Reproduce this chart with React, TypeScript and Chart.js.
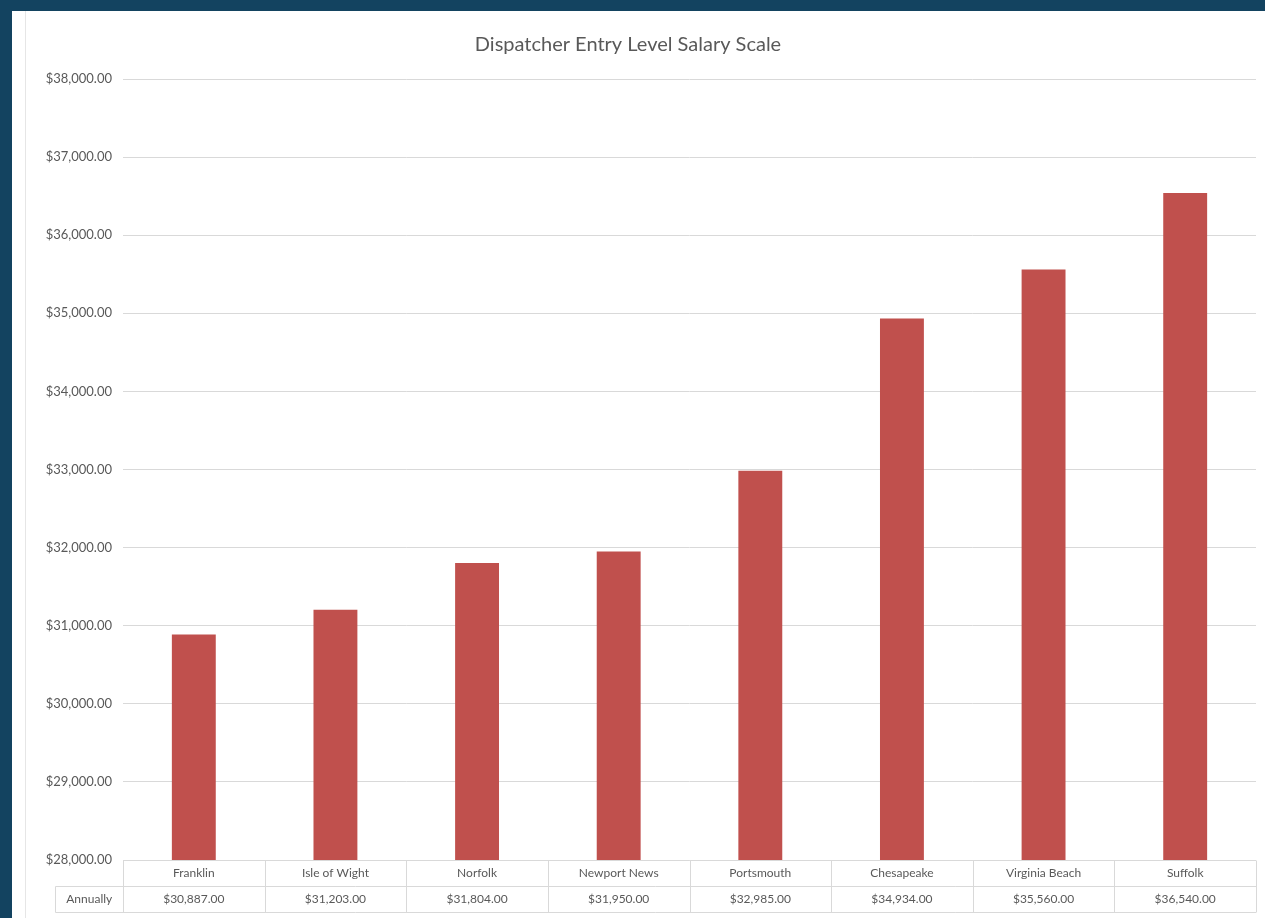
import React, { useEffect, useRef } from "react";
import { Chart, registerables } from "chart.js";

Chart.register(...registerables);

const categories = [
  "Franklin",
  "Isle of Wight",
  "Norfolk",
  "Newport News",
  "Portsmouth",
  "Chesapeake",
  "Virginia Beach",
  "Suffolk",
];
const annually = [30887, 31203, 31804, 31950, 32985, 34934, 35560, 36540];
const rowLabel = "Annually";
const titleText = "Dispatcher Entry Level Salary Scale";
const yMin = 28000;
const yMax = 38000;
const yStep = 1000;

const FONT = "Lato, 'Open Sans', sans-serif";
const TEXT = "#595959";
const GRID = "#d9d9d9";

const money = (v: number) =>
  "$" + v.toLocaleString("en-US", { minimumFractionDigits: 2, maximumFractionDigits: 2 });

const tablePlugin = {
  id: "dataTable",
  afterDraw(chart: any) {
    const ctx = chart.ctx as CanvasRenderingContext2D;
    const a = chart.chartArea;
    const xs = chart.scales.x;
    const n = categories.length;
    const rowH = 26;
    const top = Math.round(a.bottom) + 0.5;
    const labelLeft = 55.5;
    ctx.save();
    ctx.strokeStyle = GRID;
    ctx.lineWidth = 1;
    const line = (x1: number, y1: number, x2: number, y2: number) => {
      ctx.beginPath();
      ctx.moveTo(x1, y1);
      ctx.lineTo(x2, y2);
      ctx.stroke();
    };
    line(a.left, top, a.right, top);
    line(labelLeft, top + rowH, a.right, top + rowH);
    line(labelLeft, top + 2 * rowH, a.right, top + 2 * rowH);
    line(labelLeft, top + rowH, labelLeft, top + 2 * rowH);
    const bounds: number[] = [];
    for (let i = 0; i <= n; i++) {
      let b: number;
      if (i === 0) b = a.left;
      else if (i === n) b = a.right;
      else b = (xs.getPixelForValue(i - 1) + xs.getPixelForValue(i)) / 2;
      bounds.push(Math.round(b) + 0.5);
    }
    bounds.forEach((b) => line(b, top, b, top + 2 * rowH));

    ctx.fillStyle = TEXT;
    ctx.font = `12px ${FONT}`;
    ctx.textAlign = "center";
    ctx.textBaseline = "middle";
    for (let i = 0; i < n; i++) {
      const cx = xs.getPixelForValue(i);
      ctx.fillText(categories[i], cx, top + rowH / 2);
      ctx.fillText(money(annually[i]), cx, top + rowH * 1.5);
    }
    ctx.textAlign = "center";
    ctx.fillText(rowLabel, (labelLeft + a.left) / 2, top + rowH * 1.5);
    ctx.restore();
  },
};

export default function App() {
  const ref = useRef<HTMLCanvasElement>(null);
  useEffect(() => {
    if (!ref.current) return;
    const chart = new Chart(ref.current, {
      type: "bar",
      data: {
        labels: categories,
        datasets: [
          {
            label: rowLabel,
            data: annually,
            backgroundColor: "#c0504d",
            borderWidth: 0,
            categoryPercentage: 1,
            barPercentage: 0.31,
          },
        ],
      },
      options: {
        responsive: false,
        animation: false,
        layout: { padding: { top: 0, right: 9, bottom: 58, left: 0 } },
        plugins: {
          legend: { display: false },
          tooltip: { enabled: false },
          title: {
            display: true,
            text: titleText,
            color: TEXT,
            font: { family: FONT, size: 20, weight: "normal" },
            padding: { top: 33, bottom: 22 },
          },
        },
        scales: {
          x: { display: false },
          y: {
            min: yMin,
            max: yMax,
            afterFit: (scale: any) => {
              scale.width = 123;
            },
            ticks: {
              stepSize: yStep,
              color: TEXT,
              font: { family: FONT, size: 13 },
              padding: 11,
              callback: (v: any) => money(Number(v)),
            },
            grid: { color: GRID, drawTicks: false },
            border: { display: false },
          },
        },
      },
      plugins: [tablePlugin],
    });
    return () => chart.destroy();
  }, []);

  return (
    <div
      style={{
        position: "fixed",
        left: 0,
        top: 0,
        width: 1265,
        height: 918,
        background: "#134360",
        overflow: "hidden",
      }}
    >
      <div
        style={{
          position: "absolute",
          left: 12,
          top: 11,
          right: 0,
          bottom: 0,
          background: "#ffffff",
        }}
      >
        <div
          style={{
            position: "absolute",
            left: 13,
            top: 0,
            bottom: 0,
            borderLeft: "1px solid #e6e6e6",
          }}
        />
      </div>
      <canvas
        ref={ref}
        width={1265}
        height={918}
        style={{ position: "absolute", left: 0, top: 0 }}
      />
    </div>
  );
}
